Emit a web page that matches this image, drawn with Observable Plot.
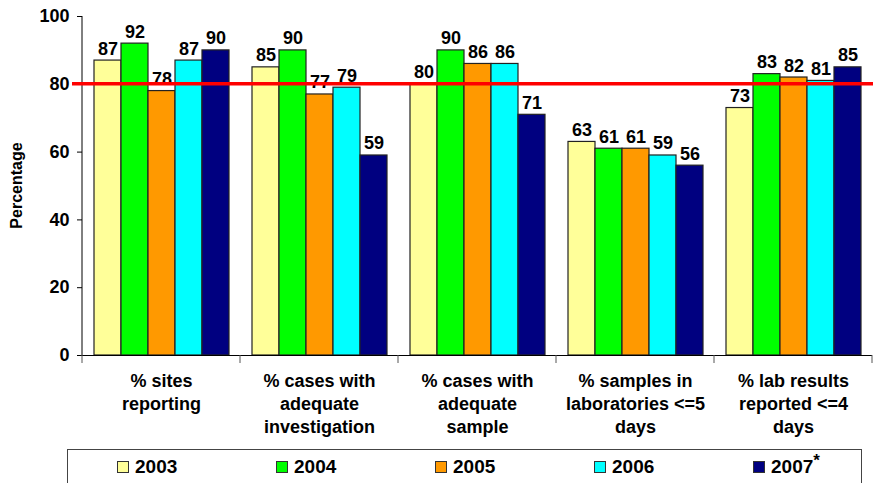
<!DOCTYPE html>
<html><head><meta charset="utf-8">
<script src="https://cdn.jsdelivr.net/npm/d3@7"></script>
<script src="https://cdn.jsdelivr.net/npm/@observablehq/plot@0.6"></script>
<style>
body{margin:0;background:#fff;font-family:"Liberation Sans",Arial,sans-serif;}
#legend{position:relative;margin-left:67px;margin-top:4px;width:795px;height:34px;border:1px solid #444;border-bottom:none;box-sizing:border-box;}
.item{position:absolute;top:5px;height:24px;display:flex;align-items:center;font-weight:bold;font-size:19px;color:#000;white-space:nowrap;}
.sw{width:10px;height:10px;border:1px solid #333;margin-right:6px;}
sup{font-size:17px;vertical-align:baseline;position:relative;top:-7px;line-height:0;}
</style></head>
<body>
<div id="chart"></div>
<div id="legend"></div>
<script>
const categories = ["% sites\nreporting", "% cases with\nadequate\ninvestigation", "% cases with\nadequate\nsample", "% samples in\nlaboratories <=5\ndays", "% lab results\nreported <=4\ndays"];
const years = ["2003", "2004", "2005", "2006", "2007"];
const legendLabels = ["2003", "2004", "2005", "2006", "2007*"];
const v2003 = [87, 85, 80, 63, 73];
const v2004 = [92, 90, 90, 61, 83];
const v2005 = [78, 77, 86, 61, 82];
const v2006 = [87, 79, 86, 59, 81];
const v2007 = [90, 59, 71, 56, 85];
const target = 80;
const yTicks = [0, 20, 40, 60, 80, 100];
const colors = ["#FFFF99", "#00FF00", "#FF9900", "#00FFFF", "#000080"];

const series = [v2003, v2004, v2005, v2006, v2007];
const data = [];
categories.forEach((c, i) => years.forEach((yr, j) => data.push({cat: c, year: yr, value: series[j][i]})));

const chart = Plot.plot({
  width: 873, height: 445,
  marginTop: 16, marginBottom: 90, marginLeft: 81, marginRight: 0,
  style: {fontFamily: "Liberation Sans, Arial, sans-serif", background: "#fff", color: "#000"},
  fx: {domain: categories, padding: 0},
  x: {domain: years, paddingOuter: 0.37, paddingInner: 0, axis: null},
  y: {domain: [0, 100]},
  color: {domain: years, range: colors},
  marks: [
    Plot.axisFx({anchor: "bottom", tickSize: 0, tickPadding: 15, fontSize: 18, fontWeight: "bold", lineHeight: 1.28, label: null}),
    Plot.axisY({ticks: yTicks, tickSize: 5, tickPadding: 8, fontSize: 18, fontWeight: "bold", label: null, stroke: "#000"}),
    Plot.barY(data, {fx: "cat", x: "year", y: "value", fill: "year", stroke: "#222", strokeWidth: 1.2}),
    Plot.ruleY([0], {stroke: "#000", strokeWidth: 1}),
    Plot.text(data, {fx: "cat", x: "year", y: "value", text: d => String(d.value), dy: -6, lineAnchor: "bottom", fontSize: 18, fontWeight: "bold", fill: "#000"})
  ]
});
document.getElementById("chart").appendChild(chart);

const fx = chart.scale("fx"), y = chart.scale("y");
const svg = d3.select(chart);
const x0 = fx.apply(categories[0]);
const bounds = categories.map(c => fx.apply(c));
bounds.push(fx.apply(categories[categories.length - 1]) + fx.bandwidth);
svg.append("g").selectAll("line").data(bounds).join("line")
  .attr("x1", d => d).attr("x2", d => d)
  .attr("y1", y.apply(0)).attr("y2", y.apply(0) + 8)
  .attr("stroke", "#555");
svg.append("line").attr("x1", x0).attr("x2", x0)
  .attr("y1", y.apply(100)).attr("y2", y.apply(0)).attr("stroke", "#000");
svg.append("line").attr("x1", x0 - 10).attr("x2", 873)
  .attr("y1", y.apply(target)).attr("y2", y.apply(target))
  .attr("stroke", "#FF0000").attr("stroke-width", 3.5);
svg.append("text").attr("transform", `translate(22,${(y.apply(0) + y.apply(100)) / 2}) rotate(-90)`)
  .attr("text-anchor", "middle").attr("font-size", 16).attr("font-weight", "bold")
  .attr("font-family", "Liberation Sans, Arial, sans-serif").text("Percentage");

const legend = d3.select("#legend");
legendLabels.forEach((lab, k) => {
  const it = legend.append("div").attr("class", "item").style("left", (49 + 159 * k) + "px");
  it.append("div").attr("class", "sw").style("background", colors[k]);
  const t = it.append("span");
  if (lab.endsWith("*")) { t.text(lab.slice(0, -1)); t.append("sup").text("*"); }
  else t.text(lab);
});
</script>
</body></html>
